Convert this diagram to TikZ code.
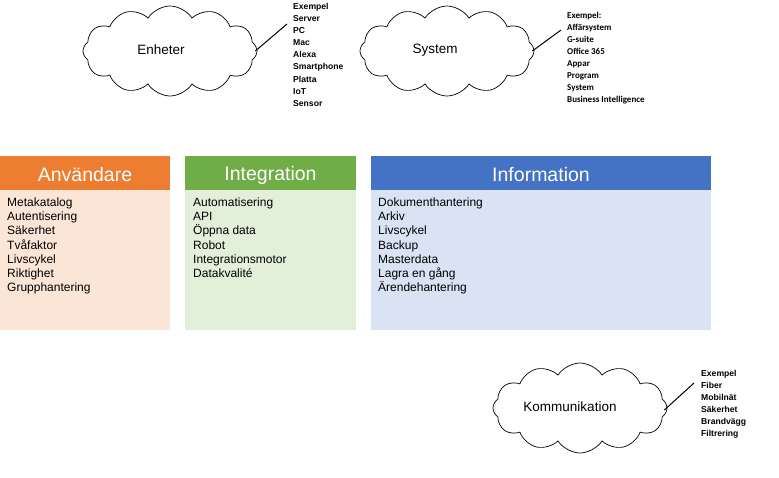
\documentclass[tikz,border=0pt]{standalone}
\usepackage{fontspec}
\setmainfont{Liberation Sans}
\newfontfamily\smallbold{Liberation Sans}
\newfontfamily\calib{Carlito}
\usetikzlibrary{shapes.symbols}
\definecolor{orangeh}{HTML}{ED7D31}
\definecolor{orangeb}{HTML}{FBE5D6}
\definecolor{greenh}{HTML}{70AD47}
\definecolor{greenb}{HTML}{E2F0D9}
\definecolor{blueh}{HTML}{4472C4}
\definecolor{blueb}{HTML}{DAE3F3}
\tikzset{
  hdr/.style={minimum height=34pt, inner sep=0pt, text=white, font=\fontsize{19.5}{22}\selectfont},
  hdrtext/.style={inner sep=0pt, text=white, font=\fontsize{19.5}{22}\selectfont},
  bodybox/.style={minimum height=140pt, inner sep=0pt},
  bodytext/.style={anchor=north west, inner sep=0pt, align=left, font=\fontsize{12}{14.2}\selectfont},
  cloudshape/.style={cloud, cloud puffs=12, cloud puff arc=115, aspect=2, draw=black, line width=0.7pt, fill=white, minimum width=174pt, minimum height=90pt, inner sep=0pt},
  cloudtext/.style={inner sep=0pt, font=\fontsize{13.5}{16}\selectfont},
  listtext/.style={anchor=north west, inner sep=0pt, align=left, font=\smallbold\bfseries\fontsize{8.6}{12.1}\selectfont},
  listtextc/.style={anchor=north west, inner sep=0pt, align=left, font=\calib\bfseries\fontsize{9}{12}\selectfont},
  callout/.style={draw=black, line width=1pt}
}
\begin{document}
\begin{tikzpicture}[x=1pt,y=-1pt]
\useasboundingbox (0,0) rectangle (779,477);
% Boxes
\node[hdr, fill=orangeh, minimum width=170pt] (anvh) at (85,173) {};
\node[hdrtext] (anvl) at (85,175) {Användare};
\node[bodybox, fill=orangeb, minimum width=170pt] (anvb) at (85,260) {};
\node[bodytext] (anvt) at (7,197.5) {Metakatalog\\Autentisering\\Säkerhet\\Tvåfaktor\\Livscykel\\Riktighet\\Grupphantering};

\node[hdr, fill=greenh, minimum width=171pt] (inth) at (270.5,173) {};
\node[hdrtext] (intl) at (270.5,175) {Integration};
\node[bodybox, fill=greenb, minimum width=171pt] (intb) at (270.5,260) {};
\node[bodytext] (intt) at (193,197.5) {Automatisering\\API\\Öppna data\\Robot\\Integrationsmotor\\Datakvalité};

\node[hdr, fill=blueh, minimum width=340pt] (infh) at (541,173) {};
\node[hdrtext] (infl) at (541,175) {Information};
\node[bodybox, fill=blueb, minimum width=340pt] (infb) at (541,260) {};
\node[bodytext] (inft) at (378,197.5) {Dokumenthantering\\Arkiv\\Livscykel\\Backup\\Masterdata\\Lagra en gång\\Ärendehantering};

% Clouds
\node[cloudshape] (enh) at (170,51) {};
\node[cloudtext] (enhl) at (161,50) {Enheter};
\node[cloudshape] (sys) at (447,51) {};
\node[cloudtext] (sysl) at (435,50) {System};
\node[cloudshape] (kom) at (580,408) {};
\node[cloudtext] (koml) at (570,407) {Kommunikation};

% Lists
\node[listtext] (enhlist) at (293,3) {Exempel\\Server\\PC\\Mac\\Alexa\\Smartphone\\Platta\\IoT\\Sensor};
\node[listtextc] (syslist) at (567,12) {Exempel:\\Affärsystem\\G-suite\\Office 365\\Appar\\Program\\System\\Business Intelligence};
\node[listtext] (komlist) at (701,370) {Exempel\\Fiber\\Mobilnät\\Säkerhet\\Brandvägg\\Filtrering};

% Callouts
\coordinate (enhtip) at (287,24);
\coordinate (systip) at (561,30);
\coordinate (komtip) at (694,383);
\draw[callout] (enh.east) ++(-2,0) -- (enhtip);
\draw[callout] (sys.east) ++(-2,0) -- (systip);
\draw[callout] (kom.east) ++(-3,2) -- (komtip);
\end{tikzpicture}
\end{document}
